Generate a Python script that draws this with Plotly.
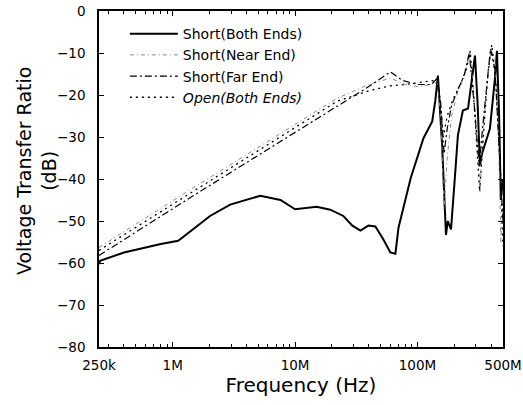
import plotly.graph_objects as go

# ---- data (frequency in Hz, ratio in dB) ----
f_both = [2.5e5, 2.55e5, 4e5, 5.94e5, 8e5, 1.11e6, 1.53e6, 2.02e6, 2.95e6, 4e6, 5.2e6, 7.6e6,
          10e6, 15e6, 19.4e6, 24.8e6, 29.4e6, 34.2e6, 39.7e6, 45.3e6, 52.7e6, 60e6, 66e6,
          70e6, 80e6, 88e6, 112e6, 132e6, 140e6, 147e6, 159e6, 171e6, 177e6, 188e6, 202e6,
          214e6, 235e6, 259e6, 284e6, 295e6, 310e6, 324e6, 337e6, 391e6, 430e6, 446e6,
          465e6, 480e6, 500e6]
db_both = [-60.3, -59.5, -57.5, -56.3, -55.5, -54.7, -51.6, -48.8, -46.1, -45.0, -44.0, -45.0,
           -47.2, -46.6, -47.3, -48.8, -51.1, -52.3, -51.1, -51.3, -54.4, -57.5, -57.8,
           -51.6, -44.5, -39.8, -30.3, -26.3, -21.3, -15.4, -32.0, -53.3, -50.0, -52.0, -39.8,
           -29.6, -23.7, -23.2, -14.4, -10.6, -22.0, -36.7, -34.0, -28.0, -16.0, -9.5,
           -25.0, -45.0, -40.0]

f_near = [2.5e5, 1.47e6, 22e6, 40e6, 60e6, 80e6, 100e6, 130e6, 145e6, 155e6, 165e6, 175e6,
          190e6, 215e6, 240e6, 268e6, 290e6, 315e6, 325e6, 340e6, 370e6, 400e6, 430e6,
          460e6, 480e6, 500e6]
db_near = [-56.3, -42.1, -20.8, -17.5, -16.0, -17.5, -18.0, -17.5, -17.0, -25.0, -47.0, -35.0,
           -25.0, -19.0, -16.0, -10.0, -20.0, -35.0, -43.0, -30.0, -18.0, -9.0, -12.0,
           -30.0, -55.0, -45.0]

f_far = [2.5e5, 1.47e6, 22e6, 40e6, 60e6, 75e6, 100e6, 130e6, 145e6, 155e6, 165e6, 175e6,
         190e6, 215e6, 240e6, 265e6, 290e6, 320e6, 340e6, 370e6, 395e6, 430e6, 470e6, 500e6]
db_far = [-58.2, -44.0, -22.7, -18.0, -14.5, -16.5, -17.5, -17.5, -16.0, -22.0, -34.0, -28.0,
          -22.5, -18.5, -15.5, -10.0, -22.0, -37.0, -28.0, -17.0, -9.0, -14.0, -35.0, -50.0]

f_open = [2.5e5, 1.47e6, 22e6, 40e6, 60e6, 80e6, 110e6, 140e6, 150e6, 163e6, 175e6, 195e6,
          220e6, 250e6, 270e6, 295e6, 322e6, 345e6, 375e6, 405e6, 440e6, 480e6, 500e6]
db_open = [-57.0, -43.0, -21.5, -19.0, -17.8, -17.5, -17.0, -16.5, -19.0, -30.0, -25.0, -21.0,
           -18.0, -14.0, -9.5, -25.0, -43.0, -30.0, -15.0, -8.0, -18.0, -40.0, -56.0]

names = ["Short(Both Ends)", "Short(Near End)", "Short(Far End)", "<i>Open(Both Ends)</i>"]

x_tickvals = [2.5e5, 1e6, 1e7, 1e8, 5e8]
x_ticktext = ["250k", "1M", "10M", "100M", "500M"]
y_tickvals = [0, -10, -20, -30, -40, -50, -60, -70, -80]

minor_vals = [3e5, 4e5, 5e5, 6e5, 7e5, 8e5, 9e5] + \
    [m * 10 ** e for e in (6, 7) for m in range(2, 10)] + [2e8, 3e8, 4e8]

FONT = "DejaVu Sans, Verdana, sans-serif"

fig = go.Figure()
fig.add_trace(go.Scatter(x=f_both, y=db_both, mode="lines", name=names[0],
                         line=dict(color="black", width=2)))
fig.add_trace(go.Scatter(x=f_near, y=db_near, mode="lines", name=names[1],
                         line=dict(color="#8a8a8a", width=1, dash="4px,3px,1px,3px")))
fig.add_trace(go.Scatter(x=f_far, y=db_far, mode="lines", name=names[2],
                         line=dict(color="black", width=1.2, dash="7px,3px,2px,3px")))
fig.add_trace(go.Scatter(x=f_open, y=db_open, mode="lines", name=names[3],
                         line=dict(color="black", width=1.3, dash="2px,4px")))

fig.update_layout(
    width=523, height=405,
    margin=dict(l=99, r=20, t=11, b=58),
    paper_bgcolor="white", plot_bgcolor="white",
    font=dict(family=FONT, color="black", size=14),
    showlegend=True,
    legend=dict(x=0.064, y=0.979, xanchor="left", yanchor="top", itemwidth=48,
                bgcolor="rgba(0,0,0,0)", font=dict(size=14), tracegroupgap=0),
    annotations=[dict(text="Voltage Transfer Ratio<br>(dB)", textangle=-90,
                      xref="paper", yref="paper", x=-0.153, y=0.524,
                      xanchor="center", yanchor="middle", showarrow=False,
                      font=dict(size=19, family=FONT))],
)
fig.update_xaxes(
    type="log", range=[5.39794, 8.69897],
    tickmode="array", tickvals=x_tickvals, ticktext=x_ticktext,
    ticks="inside", ticklen=5, tickwidth=1, tickcolor="black",
    showline=True, linecolor="black", linewidth=1.5, mirror="ticks",
    showgrid=False, zeroline=False, automargin=False,
    tickfont=dict(size=13.5), ticklabelstandoff=5, ticklabeloverflow="allow",
    minor=dict(tickmode="array", tickvals=minor_vals, ticks="inside", ticklen=3,
               tickcolor="black", showgrid=False),
    title=dict(text="Frequency (Hz)", font=dict(size=20), standoff=4),
)
fig.update_yaxes(
    range=[-80, 0],
    tickmode="array", tickvals=y_tickvals,
    ticks="inside", ticklen=5, tickwidth=1, tickcolor="black",
    showline=True, linecolor="black", linewidth=1.5, mirror="ticks",
    showgrid=False, zeroline=False, automargin=False,
    tickfont=dict(size=13.5), ticklabelstandoff=9,
)

fig.write_html("out.html")
